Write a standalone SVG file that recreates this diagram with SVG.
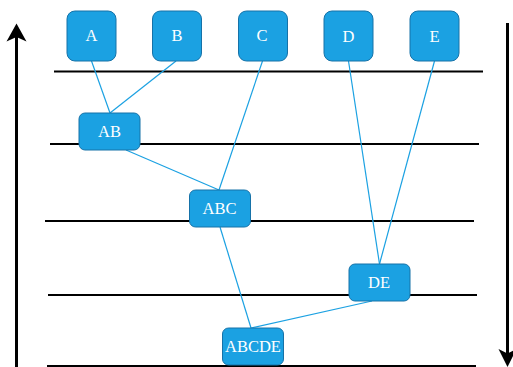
<svg xmlns="http://www.w3.org/2000/svg" width="513" height="367" viewBox="0 0 513 367">
  <defs>
    <style>
      .level { stroke: #000; stroke-width: 2; }
      .axis { stroke: #000; stroke-width: 3; fill: none; }
      .tip { fill: #000; }
      .node rect { fill: #1ba1e2; stroke: #1672a8; stroke-width: 1; }
      .node text { fill: #fff; font-family: "Liberation Serif", "Times New Roman", serif; font-size: 16.5px; text-anchor: middle; }
      .edge { stroke: #1ba1e2; stroke-width: 1.2; fill: none; }
    </style>
  </defs>

  <rect width="513" height="367" fill="#fff"/>

  <!-- time axes -->
  <g id="axes">
    <line class="axis" x1="16.5" y1="367" x2="16.5" y2="34"/>
    <path class="tip" d="M16.5,23.5 L26.5,41.5 L16.5,37 L6.5,41.5 Z"/>
    <line class="axis" x1="507.5" y1="23" x2="507.5" y2="356"/>
    <path class="tip" d="M507.5,367 L498.5,349 L507.5,353.5 L516.5,349 Z"/>
  </g>

  <!-- merge levels -->
  <g id="levels">
    <line class="level" x1="54" y1="71.5" x2="483" y2="71.5"/>
    <line class="level" x1="50" y1="144" x2="479" y2="144"/>
    <line class="level" x1="45" y1="221" x2="474" y2="221"/>
    <line class="level" x1="48" y1="295" x2="477" y2="295"/>
    <line class="level" x1="47" y1="366" x2="476" y2="366"/>
  </g>

  <!-- connectors -->
  <g id="connectors">
    <line class="edge" x1="91.5" y1="61" x2="110" y2="113"/>
    <line class="edge" x1="176" y1="61" x2="110" y2="113"/>
    <line class="edge" x1="262.5" y1="61" x2="219" y2="190"/>
    <line class="edge" x1="126" y1="150" x2="219" y2="190"/>
    <line class="edge" x1="348.5" y1="61" x2="379.5" y2="264"/>
    <line class="edge" x1="434.5" y1="61" x2="379.5" y2="264"/>
    <line class="edge" x1="220" y1="227" x2="251" y2="328"/>
    <line class="edge" x1="372" y1="301" x2="251" y2="328"/>
  </g>

  <!-- leaves -->
  <g id="node-A" class="node"><rect x="67" y="11" width="49" height="50" rx="8"/><text x="91.5" y="40.5">A</text></g>
  <g id="node-B" class="node"><rect x="152.5" y="11" width="49" height="50" rx="8"/><text x="177" y="40.5">B</text></g>
  <g id="node-C" class="node"><rect x="238.5" y="11" width="49" height="50" rx="8"/><text x="262" y="40.5">C</text></g>
  <g id="node-D" class="node"><rect x="324" y="11" width="49" height="50" rx="8"/><text x="348.5" y="41.5">D</text></g>
  <g id="node-E" class="node"><rect x="410" y="11" width="49" height="50" rx="8"/><text x="434.5" y="41.5">E</text></g>

  <!-- merged clusters -->
  <g id="node-AB" class="node"><rect x="79" y="113" width="61" height="37" rx="6"/><text x="109.5" y="136.5">AB</text></g>
  <g id="node-ABC" class="node"><rect x="189.5" y="190" width="61" height="37" rx="6"/><text x="219.5" y="214">ABC</text></g>
  <g id="node-DE" class="node"><rect x="349" y="264" width="61" height="37" rx="6"/><text x="379" y="287.5">DE</text></g>
  <g id="node-ABCDE" class="node"><rect x="222.5" y="328" width="61" height="37" rx="6"/><text x="253" y="351.5">ABCDE</text></g>
</svg>
